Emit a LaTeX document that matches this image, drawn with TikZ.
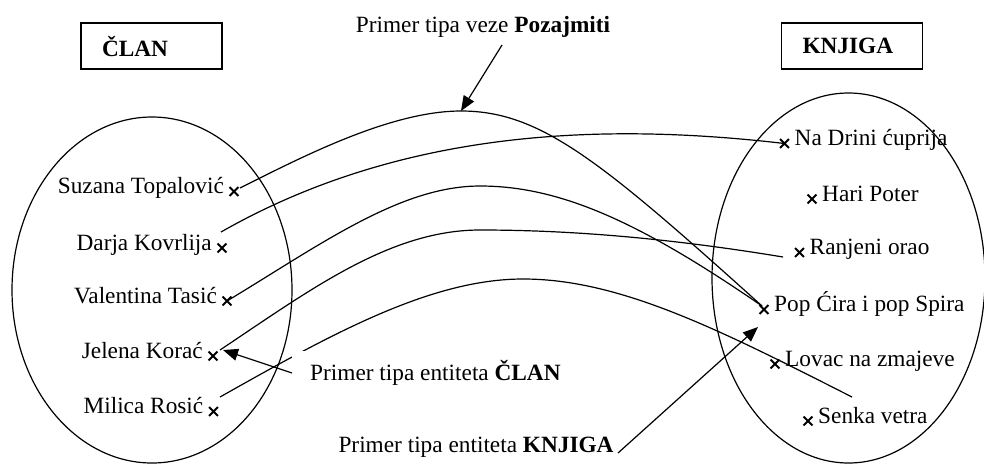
\documentclass[tikz,border=0pt]{standalone}
\usepackage{fontspec}
\setmainfont{Liberation Serif}
\usetikzlibrary{arrows.meta}
\tikzset{
  conn/.style={line width=1.2pt},
  arr/.style={line width=1.2pt,-{Triangle[length=15pt,width=12pt]}},
  xline/.style={line width=2pt},
  entbox/.style={draw,line width=1.5pt,text width=99pt,inner xsep=21pt,inner ysep=0pt,
    minimum height=46pt,align=left,font=\fontsize{23.3}{28}\selectfont\bfseries},
  lname/.style={anchor=mid east,inner sep=0pt},
  rname/.style={anchor=mid west,inner sep=0pt},
  setline/.style={line width=1.2pt}
}
\newcommand\xcross[1]{\draw[xline] (#1) ++(-4.4,-4.4) -- ++(8.8,8.8) ++(-8.8,0) -- ++(8.8,-8.8);}
\begin{document}
\begin{tikzpicture}[x=1pt,y=-1pt,font=\fontsize{23.3}{28}\selectfont]
\useasboundingbox (0,0) rectangle (984,464);
% sets
\draw[setline] (152,290) ellipse [x radius=140, y radius=173];
\draw[setline] (848.5,278) ellipse [x radius=136.5, y radius=185];
% entity boxes
\node[entbox] (clan) at (151.5,46) {ČLAN};
\node[entbox] (knjiga) at (852,46) {KNJIGA};
% cross coordinates
\coordinate (xs) at (234,191.5);
\coordinate (xd) at (222,248);
\coordinate (xv) at (227,301);
\coordinate (xj) at (213,356);
\coordinate (xm) at (213.5,411.5);
\coordinate (xn) at (784.5,143.5);
\coordinate (xh) at (812,199);
\coordinate (xr) at (799.5,252.5);
\coordinate (xp) at (764,309.5);
\coordinate (xl) at (775,364);
\coordinate (xk) at (808,421);
% left names
\node[lname] (suzana) at ([xshift=-10pt]xs) {Suzana Topalović};
\node[lname] (darja) at ([xshift=-10pt]xd) {Darja Kovrlija};
\node[lname] (valentina) at ([xshift=-10pt]xv) {Valentina Tasić};
\node[lname] (jelena) at ([xshift=-10pt]xj) {Jelena Korać};
\node[lname] (milica) at ([xshift=-10pt]xm) {Milica Rosić};
% right names
\node[rname] (drina) at ([xshift=10pt]xn) {Na Drini ćuprija};
\node[rname] (hari) at ([xshift=10pt]xh) {Hari Poter};
\node[rname] (ranjeni) at ([xshift=10pt]xr) {Ranjeni orao};
\node[rname] (pop) at ([xshift=10pt]xp) {Pop Ćira i pop Spira};
\node[rname] (lovac) at ([xshift=10pt]xl) {Lovac na zmajeve};
\node[rname] (senka) at ([xshift=10pt]xk) {Senka vetra};
% connector end points
\coordinate (ss) at (240,188);
\coordinate (peak) at (461,111);
\coordinate (ds) at (221,232);
\coordinate (pe) at (762,306);
\coordinate (js) at (220,350);
\coordinate (re) at (783,257);
\coordinate (ms) at (220,397);
\coordinate (se) at (852,397);
% relationship curves
\draw[conn] (ss) .. controls (300,158) and (390,111) .. (peak)
  .. controls (540,111) and (600,160) .. (pe);
\draw[conn] (ds) .. controls (400,130) and (600,122) .. (xn);
\draw[conn] (xv) .. controls (320,245) and (400,186) .. (480,186)
  .. controls (560,186) and (640,222) .. (pe);
\draw[conn] (js) .. controls (310,290) and (390,230) .. (480,230)
  .. controls (580,230) and (680,240) .. (re);
\draw[conn] (ms) .. controls (330,335) and (430,279) .. (523,279)
  .. controls (620,279) and (720,330) .. (se);
% crosses
\foreach \c in {xs,xd,xv,xj,xm,xn,xh,xr,xp,xl,xk} {\xcross{\c}}
% labels
\node[anchor=base] (lbltop) at (483,32) {Primer tipa veze \textbf{Pozajmiti}};
\node[anchor=west,fill=white,inner xsep=18pt,inner ysep=9pt] (lblc) at (292,373) {Primer tipa entiteta \textbf{ČLAN}};
\node[anchor=base west] (lblk) at (335,452) {Primer tipa entiteta \textbf{KNJIGA}};
\coordinate (ts) at (502,45);
\coordinate (jt) at (223,350);
\coordinate (ks) at (618,453);
\coordinate (kt) at (758,327);
\draw[arr] (ts) -- (peak);
\draw[arr] (lblc.west) -- (jt);
\draw[arr] (ks) -- (kt);
\end{tikzpicture}
\end{document}
